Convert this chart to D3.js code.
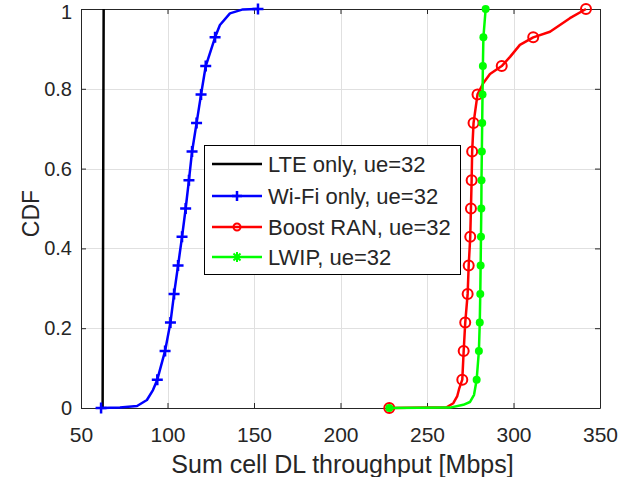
<!DOCTYPE html>
<html><head><meta charset="utf-8">
<script src="https://cdn.jsdelivr.net/npm/d3@7"></script>
<style>
body{margin:0;background:#fff}
svg{display:block}
text{font-family:"Liberation Sans",Arial,Helvetica,sans-serif;fill:#262626}
</style>
</head><body>
<svg id="c" width="637" height="477"></svg>
<script>
// ---- data ----
const xTicks = [50, 100, 150, 200, 250, 300, 350];
const yTicks = [0, 0.2, 0.4, 0.6, 0.8, 1];
const yTickLabels = ["0", "0.2", "0.4", "0.6", "0.8", "1"];
const seriesNames = ["LTE only, ue=32", "Wi-Fi only, ue=32", "Boost RAN, ue=32", "LWIP, ue=32"];
const seriesColors = ["#000000", "#0000ff", "#ff0000", "#00ff00"];
const markerCdf = [0, 0.071, 0.143, 0.214, 0.286, 0.357, 0.429, 0.5, 0.571, 0.643, 0.714, 0.786, 0.857, 0.929, 1];

const lteX = [62.5, 62.8, 63.1];
const lteCdf = [0, 0.5, 1];

const wifiMarkX = [61.6, 94.1, 98.6, 101.7, 103.8, 106.1, 108.4, 110.5, 112.4, 114.2, 116.8, 119.4, 122.1, 127.5, 152.3];
const wifiExtraX = [72.5, 82.4, 88.1, 91.6, 130.3, 136.1, 143.6];
const wifiExtraCdf = [0.001, 0.005, 0.02, 0.045, 0.96, 0.989, 0.999];

const ranMarkX = [228.2, 270.4, 271.2, 272.1, 273.5, 274.1, 275.0, 275.4, 275.8, 276.1, 276.9, 279.2, 293.2, 311.4, 341.9];
const ranExtraX = [261.3, 265.2, 267.5, 268.7, 282.5, 286.4, 298.0, 303.7, 321.1, 332.6];
const ranExtraCdf = [0.002, 0.012, 0.03, 0.05, 0.814, 0.837, 0.880, 0.910, 0.943, 0.977];

const lwipMarkX = [228.2, 278.7, 280.0, 280.5, 280.8, 281.0, 281.2, 281.4, 281.5, 281.7, 281.9, 282.1, 282.3, 282.6, 283.9];
const lwipExtraX = [263.3, 271.0, 274.8, 277.2];
const lwipExtraCdf = [0.001, 0.008, 0.015, 0.033];

// ---- helpers ----
const zipPts = (xs, ys) => xs.map((v, i) => [v, ys[i]]);
const curve = (mx, ex, ey) => zipPts(mx, markerCdf).concat(zipPts(ex, ey))
  .sort((a, b) => a[1] - b[1] || a[0] - b[0]);

const svg = d3.select("#c");
const x = d3.scaleLinear().domain([50, 350]).range([81, 600]);
const y = d3.scaleLinear().domain([0, 1]).range([408, 9]);

// grid
const grid = svg.append("g").attr("stroke", "#e0e0e0").attr("stroke-width", 1);
grid.selectAll(".gx").data(xTicks.slice(1, -1)).join("line")
  .attr("x1", d => Math.round(x(d)) + 0.5).attr("x2", d => Math.round(x(d)) + 0.5)
  .attr("y1", y(1)).attr("y2", y(0));
grid.selectAll(".gy").data(yTicks.slice(1, -1)).join("line")
  .attr("y1", d => Math.round(y(d)) + 0.5).attr("y2", d => Math.round(y(d)) + 0.5)
  .attr("x1", x(50)).attr("x2", x(350));

// axes
function styleAxis(g) {
  g.selectAll("path").attr("stroke", "#262626").attr("stroke-width", 1);
  g.selectAll("line").attr("stroke", "#262626").attr("stroke-width", 1);
  g.selectAll("text").attr("fill", "#262626");
}
svg.append("g").attr("transform", `translate(0,${y(0)})`)
  .call(d3.axisBottom(x).tickValues(xTicks).tickSize(-5).tickSizeOuter(0).tickPadding(19))
  .call(g => g.selectAll("text").style("font-size", "21px"))
  .call(styleAxis);
svg.append("g").attr("transform", `translate(${x(50)},0)`)
  .call(d3.axisLeft(y).tickValues(yTicks).tickFormat((d, i) => yTickLabels[i]).tickSize(-5).tickSizeOuter(0).tickPadding(9))
  .call(g => g.selectAll("text").style("font-size", "20px"))
  .call(g => g.selectAll(".tick").filter(d => d === 1).select("text").attr("y", 3))
  .call(styleAxis);
svg.append("g").attr("transform", `translate(0,${y(1)})`)
  .call(d3.axisTop(x).tickValues(xTicks).tickSize(-5).tickSizeOuter(0).tickFormat(""))
  .call(styleAxis);
svg.append("g").attr("transform", `translate(${x(350)},0)`)
  .call(d3.axisRight(y).tickValues(yTicks).tickSize(-5).tickSizeOuter(0).tickFormat(""))
  .call(styleAxis);

// axis titles
svg.append("text").attr("x", (x(50) + x(350)) / 2 + 2).attr("y", 473)
  .attr("text-anchor", "middle").style("font-size", "25px").text("Sum cell DL throughput [Mbps]");
svg.append("text").attr("transform", `translate(39,${(y(0) + y(1)) / 2 + 5}) rotate(-90)`)
  .attr("text-anchor", "middle").style("font-size", "23px").text("CDF");

// lines
const line = d3.line().x(d => x(d[0])).y(d => y(d[1]));
const lineData = [
  zipPts(lteX, lteCdf),
  curve(wifiMarkX, wifiExtraX, wifiExtraCdf),
  curve(ranMarkX, ranExtraX, ranExtraCdf),
  curve(lwipMarkX, lwipExtraX, lwipExtraCdf)
];
const plot = svg.append("g");

plot.append("path").datum(lineData[0]).attr("d", line)
  .attr("fill", "none").attr("stroke", seriesColors[0]).attr("stroke-width", 2.5);

plot.append("path").datum(lineData[1]).attr("d", line)
  .attr("fill", "none").attr("stroke", seriesColors[1]).attr("stroke-width", 2.5).attr("stroke-linejoin", "round");
plot.selectAll(".pm").data(zipPts(wifiMarkX, markerCdf)).join("path")
  .attr("transform", d => `translate(${x(d[0])},${y(d[1])})`)
  .attr("d", "M-5.5,0H5.5M0,-5.5V5.5").attr("stroke", seriesColors[1]).attr("stroke-width", 2.5);

plot.append("path").datum(lineData[2]).attr("d", line)
  .attr("fill", "none").attr("stroke", seriesColors[2]).attr("stroke-width", 2.5).attr("stroke-linejoin", "round");
plot.selectAll(".om").data(zipPts(ranMarkX, markerCdf)).join("circle")
  .attr("cx", d => x(d[0])).attr("cy", d => y(d[1])).attr("r", 5)
  .attr("fill", "none").attr("stroke", seriesColors[2]).attr("stroke-width", 2);

plot.append("path").datum(lineData[3]).attr("d", line)
  .attr("fill", "none").attr("stroke", seriesColors[3]).attr("stroke-width", 2.5).attr("stroke-linejoin", "round");
plot.selectAll(".gm").data(zipPts(lwipMarkX, markerCdf)).join("circle")
  .attr("cx", d => x(d[0])).attr("cy", d => y(d[1])).attr("r", 4)
  .attr("fill", seriesColors[3]);

// legend
const lg = svg.append("g");
lg.append("rect").attr("x", 204.5).attr("y", 145.5).attr("width", 256).attr("height", 129)
  .attr("fill", "#fff").attr("stroke", "#000").attr("stroke-width", 1);
const rowY = [164, 196, 227, 257];
seriesNames.forEach((name, i) => {
  const cy = rowY[i];
  lg.append("line").attr("x1", 212).attr("x2", 262).attr("y1", cy).attr("y2", cy)
    .attr("stroke", seriesColors[i]).attr("stroke-width", 2.5);
  if (i === 1) lg.append("path").attr("transform", `translate(237,${cy})`)
    .attr("d", "M-5,0H5M0,-5V5").attr("stroke", seriesColors[i]).attr("stroke-width", 2.5);
  if (i === 2) lg.append("circle").attr("cx", 237).attr("cy", cy).attr("r", 3.5)
    .attr("fill", "none").attr("stroke", seriesColors[i]).attr("stroke-width", 2);
  if (i === 3) lg.append("path").attr("transform", `translate(237,${cy})`)
    .attr("d", "M-5,0H5M0,-5V5M-3.5,-3.5L3.5,3.5M-3.5,3.5L3.5,-3.5").attr("stroke", seriesColors[i]).attr("stroke-width", 2);
  lg.append("text").attr("x", 268).attr("y", cy + 8).style("font-size", "22px").attr("fill", "#000").text(name);
});
</script>
</body></html>
